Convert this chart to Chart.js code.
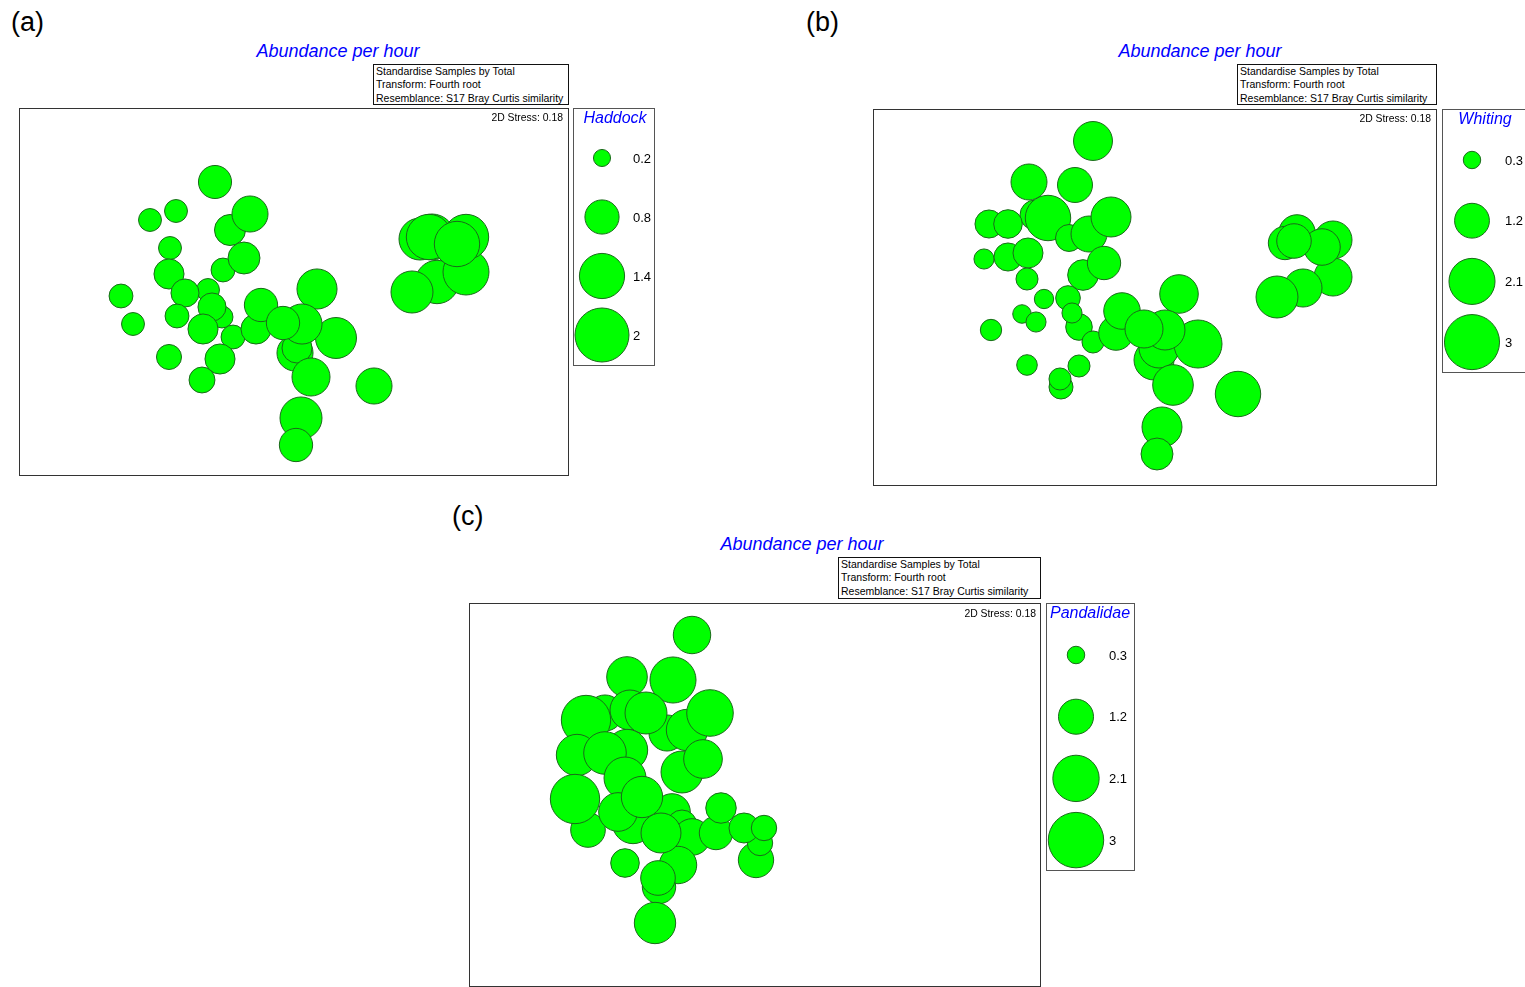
<!DOCTYPE html>
<html>
<head>
<meta charset="utf-8">
<script src="https://cdn.jsdelivr.net/npm/chart.js@4.4.1/dist/chart.umd.min.js"></script>
<style>
  body { margin: 0; width: 1525px; height: 987px; position: relative; overflow: hidden; background: #fff;
         font-family: "Liberation Sans", Arial, sans-serif; }
  .abs { position: absolute; box-sizing: border-box; }
  .panel-lbl { font-size: 27px; line-height: 30px; color: #000; }
  .title { font-size: 18px; font-style: italic; color: #0000ff; white-space: nowrap; transform: translateX(-50%); line-height: 20px; }
  .info { border: 1px solid #111; font-size: 10.5px; line-height: 13.4px; padding: 0 2px; white-space: nowrap; color: #000; }
  .frame { border: 1px solid #333; pointer-events: none; }
  .stress { font-size: 10.4px; white-space: nowrap; text-align: right; color: #000; }
  .lgbox { border: 1px solid #555; }
  .lgtitle { font-size: 16px; font-style: italic; color: #0000ff; white-space: nowrap; transform: translateX(-50%); line-height: 18px; }
  canvas { position: absolute; }
</style>
</head>
<body>

<!-- (a) Haddock -->
<div class="abs panel-lbl" style="left:11px;top:7px;">(a)</div>
<div class="abs title" style="left:338px;top:41px;">Abundance per hour</div>
<div class="abs info" style="left:373px;top:64px;width:196px;height:41px;">Standardise Samples by Total<br>Transform: Fourth root<br>Resemblance: S17 Bray Curtis similarity</div>
<canvas id="plotA" width="550" height="368" style="left:19px;top:108px;"></canvas>
<div class="abs frame" style="left:19px;top:108px;width:550px;height:368px;"></div>
<div class="abs stress" style="left:369px;top:112px;width:194px;">2D Stress: 0.18</div>
<div class="abs lgbox" style="left:573px;top:108px;width:82px;height:258px;"></div>
<canvas id="legA" width="82" height="258" style="left:573px;top:108px;"></canvas>
<div class="abs lgtitle" style="left:615px;top:109px;">Haddock</div>

<!-- (b) Whiting -->
<div class="abs panel-lbl" style="left:806px;top:7px;">(b)</div>
<div class="abs title" style="left:1200px;top:41px;">Abundance per hour</div>
<div class="abs info" style="left:1237px;top:64px;width:200px;height:41px;">Standardise Samples by Total<br>Transform: Fourth root<br>Resemblance: S17 Bray Curtis similarity</div>
<canvas id="plotB" width="564" height="377" style="left:873px;top:109px;"></canvas>
<div class="abs frame" style="left:873px;top:109px;width:564px;height:377px;"></div>
<div class="abs stress" style="left:1237px;top:113px;width:194px;">2D Stress: 0.18</div>
<div class="abs lgbox" style="left:1442px;top:109px;width:86px;height:264px;"></div>
<canvas id="legB" width="86" height="264" style="left:1442px;top:109px;"></canvas>
<div class="abs lgtitle" style="left:1485px;top:110px;">Whiting</div>

<!-- (c) Pandalidae -->
<div class="abs panel-lbl" style="left:452px;top:501px;">(c)</div>
<div class="abs title" style="left:802px;top:534px;">Abundance per hour</div>
<div class="abs info" style="left:838px;top:557px;width:203px;height:42px;">Standardise Samples by Total<br>Transform: Fourth root<br>Resemblance: S17 Bray Curtis similarity</div>
<canvas id="plotC" width="572" height="383" style="left:469px;top:603px;"></canvas>
<div class="abs frame" style="left:469px;top:603px;width:572px;height:384px;"></div>
<div class="abs stress" style="left:841px;top:608px;width:195px;">2D Stress: 0.18</div>
<div class="abs lgbox" style="left:1046px;top:603px;width:89px;height:268px;"></div>
<canvas id="legC" width="89" height="268" style="left:1046px;top:603px;"></canvas>
<div class="abs lgtitle" style="left:1090px;top:604px;">Pandalidae</div>

<script>
// MDS coordinates (arbitrary units) and abundance per hour for each sample

// (a) Haddock
const haddockX = [19.6, 13.1, 15.7, 21.1, 23.1, 15.1, 20.4, 22.5, 15.0, 10.2, 18.9, 16.6, 20.3, 19.3, 15.8, 11.4, 18.4, 21.4, 23.7, 24.2,
                  27.6, 27.8, 29.8, 31.7, 28.3, 26.4, 29.2, 15.0, 20.1, 18.3, 35.5, 28.2, 27.7,
                  41.8, 44.7, 41.3, 40.1, 44.7, 39.3, 41.0, 43.8];
const haddockY = [29.4, 25.6, 26.5, 24.6, 26.2, 22.8, 20.6, 21.8, 20.2, 18.0, 18.6, 18.3, 15.9, 16.9, 16.0, 15.2, 14.7, 13.9, 14.7, 17.1,
                  12.3, 12.8, 18.7, 13.8, 15.2, 15.3, 9.9, 11.9, 11.7, 9.6, 9.0, 5.8, 3.1,
                  19.4, 20.4, 23.9, 23.7, 23.9, 18.4, 23.9, 23.2];
const haddockAbund = [0.75, 0.36, 0.36, 0.66, 0.89, 0.36, 0.39, 0.70, 0.62, 0.39, 0.36, 0.54, 0.33, 0.54, 0.39, 0.36, 0.62, 0.39, 0.62, 0.76,
                      0.89, 0.62, 1.10, 1.15, 1.10, 0.76, 0.99, 0.43, 0.62, 0.46, 0.89, 1.21, 0.76,
                      1.29, 1.45, 1.45, 1.21, 1.41, 1.21, 1.41, 1.41];
const haddockLegend = [0.2, 0.8, 1.4, 2];

// (b) Whiting
const whitingX = [22.0, 15.6, 20.2, 16.2, 17.5, 11.6, 13.5, 19.6, 21.6, 23.8, 11.1, 13.5, 15.5, 15.4, 21.0, 23.1, 17.1, 19.5, 14.9, 16.3,
                  11.8, 20.6, 19.9, 22.0, 24.3, 24.9, 30.6, 28.1, 28.6, 32.5, 29.2, 27.1, 30.0, 15.4, 20.6, 18.8, 18.7, 36.5, 28.9, 28.4,
                  46.0, 43.0, 40.4, 42.4, 46.0, 41.2, 44.9, 42.1];
const whitingY = [34.5, 30.4, 30.1, 27.1, 26.8, 26.2, 26.2, 24.8, 25.2, 26.9, 22.7, 22.9, 23.3, 20.7, 21.1, 22.3, 18.7, 18.8, 17.2, 16.4,
                  15.6, 15.9, 17.3, 14.4, 15.3, 17.5, 19.2, 12.6, 13.8, 14.2, 15.6, 15.7, 10.1, 12.1, 12.0, 9.9, 10.7, 9.2, 5.9, 3.2,
                  20.9, 19.8, 18.9, 25.3, 24.6, 24.3, 23.9, 24.5];
const whitingAbund = [1.50, 1.28, 1.21, 0.89, 2.04, 0.78, 0.81, 0.72, 1.28, 1.58, 0.40, 0.78, 0.89, 0.48, 0.93, 1.10, 0.37, 0.60, 0.34, 0.40,
                      0.45, 0.70, 0.40, 0.48, 1.18, 1.32, 1.47, 1.58, 1.58, 2.28, 1.58, 1.43, 1.63, 0.42, 0.48, 0.57, 0.48, 2.04, 1.58, 1.01,
                      1.43, 1.43, 1.74, 1.32, 1.43, 1.10, 1.32, 1.18];
const whitingLegend = [0.3, 1.2, 2.1, 3];

// (c) Pandalidae
const pandalidaeX = [22.3, 15.8, 20.4, 19.8, 13.6, 16.1, 11.7, 17.7, 21.8, 24.1, 10.8, 15.8, 13.6, 21.3, 23.4, 15.6, 11.9, 10.6,
                     20.3, 21.3, 16.4, 14.9, 17.3, 22.3, 20.9, 19.2, 24.7, 25.2, 28.7, 29.1, 27.5, 29.5, 15.6, 19.0, 18.9, 18.6];
const pandalidaeY = [35.1, 30.9, 30.6, 25.3, 27.3, 27.6, 26.6, 27.3, 25.6, 27.3, 23.1, 23.6, 23.3, 21.4, 22.7, 20.8, 15.6, 18.7,
                     17.4, 16.1, 16.3, 17.4, 18.9, 14.9, 12.1, 15.3, 15.3, 17.8, 12.6, 14.3, 15.8, 15.8, 12.3, 9.9, 10.8, 6.3];
const pandalidaeAbund = [1.37, 1.61, 2.07, 1.27, 1.27, 1.56, 2.38, 1.72, 1.67, 2.12, 1.67, 1.67, 1.77, 1.72, 1.46, 1.72, 1.17, 2.38,
                         1.31, 0.88, 1.67, 1.46, 1.67, 1.31, 1.37, 1.56, 1.09, 0.91, 1.22, 0.63, 0.88, 0.63, 0.80, 1.09, 1.17, 1.67];
const pandalidaeLegend = [0.3, 1.2, 2.1, 3];

const FILL = '#00ff00';
const EDGE = '#1a6a1a';

// bubble area proportional to abundance: radius = k * sqrt(value)
function radius(k, v) {
    return k * Math.sqrt(v);
}

const legendLabels = {
    id: 'legendLabels',
    afterDatasetsDraw(chart, args, opts) {
        const ctx = chart.ctx;
        const yScale = chart.scales.y;
        ctx.save();
        ctx.font = '13px "Liberation Sans", Arial, sans-serif';
        ctx.fillStyle = '#000';
        ctx.textBaseline = 'middle';
        opts.values.forEach((v, i) => ctx.fillText(String(v), opts.x, yScale.getPixelForValue(i) + 1));
        ctx.restore();
    }
};

const baseOptions = {
    responsive: false,
    animation: false,
    devicePixelRatio: 1,
    layout: { padding: 0, autoPadding: false },
    events: []
};

function drawPlot(id, xs, ys, vals, k) {
    const canvas = document.getElementById(id);
    new Chart(canvas, {
        type: 'bubble',
        data: {
            datasets: [{
                data: xs.map((x, i) => ({ x: x, y: ys[i], r: radius(k, vals[i]) })),
                backgroundColor: FILL,
                borderColor: EDGE,
                borderWidth: 1,
                clip: false
            }]
        },
        options: {
            ...baseOptions,
            plugins: { legend: { display: false }, tooltip: { enabled: false } },
            scales: {
                x: { type: 'linear', display: false, min: 0, max: canvas.width / 10 },
                y: { type: 'linear', display: false, min: 0, max: canvas.height / 10 }
            }
        }
    });
}

/**
 * Size key: bubbles stacked vertically, value labels to the right.
 * @param {{cx:number, first:number, step:number, labelX:number}} lg pixel layout inside the box
 */
function drawLegend(id, vals, k, lg) {
    const canvas = document.getElementById(id);
    new Chart(canvas, {
        type: 'bubble',
        data: {
            datasets: [{
                data: vals.map((v, i) => ({ x: 0, y: i, r: radius(k, v) })),
                backgroundColor: FILL,
                borderColor: EDGE,
                borderWidth: 1,
                clip: false
            }]
        },
        options: {
            ...baseOptions,
            plugins: {
                legend: { display: false },
                tooltip: { enabled: false },
                legendLabels: { values: vals, x: lg.labelX }
            },
            scales: {
                x: { type: 'linear', display: false, min: -lg.cx, max: canvas.width - lg.cx },
                y: { type: 'linear', display: false, reverse: true,
                     min: -lg.first / lg.step, max: (canvas.height - lg.first) / lg.step }
            }
        },
        plugins: [legendLabels]
    });
}

drawPlot('plotA', haddockX, haddockY, haddockAbund, 19.1);
drawLegend('legA', haddockLegend, 19.1, { cx: 29, first: 50, step: 59, labelX: 60 });

drawPlot('plotB', whitingX, whitingY, whitingAbund, 15.9);
drawLegend('legB', whitingLegend, 15.9, { cx: 30, first: 51, step: 60.7, labelX: 63 });

drawPlot('plotC', pandalidaeX, pandalidaeY, pandalidaeAbund, 16);
drawLegend('legC', pandalidaeLegend, 16, { cx: 30, first: 52, step: 61.7, labelX: 63 });
</script>
</body>
</html>
